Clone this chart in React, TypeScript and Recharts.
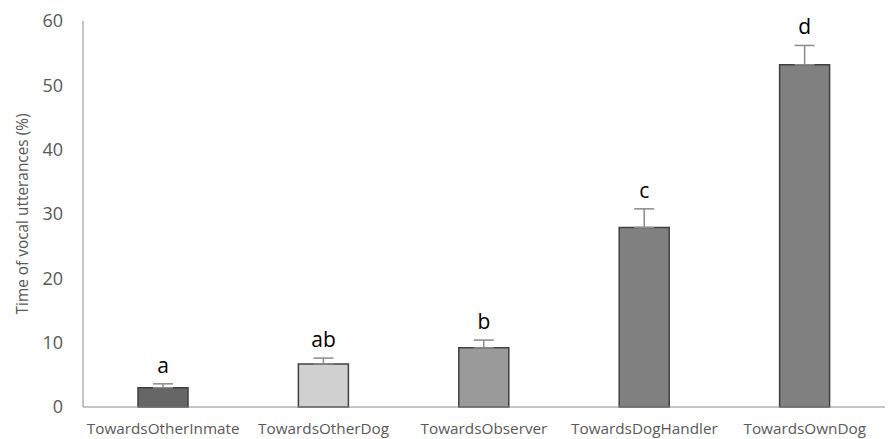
import React from 'react';
import { Bar, XAxis, YAxis, ErrorBar, Cell, Line, ComposedChart } from 'recharts';

const categories = ['TowardsOtherInmate', 'TowardsOtherDog', 'TowardsObserver', 'TowardsDogHandler', 'TowardsOwnDog'];
const means = [3.0, 6.7, 9.2, 27.9, 53.2];
const errors = [0.6, 0.9, 1.2, 2.9, 3.0];
const letters = ['a', 'ab', 'b', 'c', 'd'];
const fills = ['#666666', '#d0d0d0', '#9a9a9a', '#808080', '#808080'];
const yTicks = [0, 10, 20, 30, 40, 50, 60];
const yTitle = 'Time of vocal utterances (%)';

const data = categories.map((name, i) => ({
  name,
  mean: means[i],
  err: [0, errors[i]],
  upper: means[i] + errors[i],
  letter: letters[i],
}));

const FONT = '"Open Sans", sans-serif';

const LetterLabel = (props: any) => {
  const { x, y, index } = props;
  return (
    <text x={x} y={y - 11} textAnchor="middle" fontFamily={FONT} fontSize={21} fill="#000000">
      {letters[index]}
    </text>
  );
};

const YTitle = (props: any) => {
  const vb = props.viewBox || {};
  const cx = 22;
  const cy = (vb.y ?? 21) + (vb.height ?? 386) / 2;
  return (
    <text
      x={cx}
      y={cy}
      transform={`rotate(-90, ${cx}, ${cy})`}
      textAnchor="middle"
      dominantBaseline="central"
      fontFamily={FONT}
      fontSize={15.4}
      fill="#595959"
    >
      {yTitle}
    </text>
  );
};

export default function App() {
  return (
    <div style={{ position: 'absolute', left: 0, top: 0, background: '#fff' }}>
      <ComposedChart width={894} height={439} data={data} margin={{ top: 21, right: 9, bottom: 0, left: 0 }}>
        <XAxis
          dataKey="name"
          height={32}
          tickLine={false}
          tickSize={0}
          tickMargin={16}
          stroke="#8a8a8a"
          tick={{ fill: '#595959', fontFamily: FONT, fontSize: 15.3 }}
          interval={0}
        />
        <YAxis
          width={83}
          domain={[0, 60]}
          ticks={yTicks}
          tickLine={false}
          tickSize={0}
          tickMargin={20}
          stroke="#8a8a8a"
          tick={{ fill: '#595959', fontFamily: FONT, fontSize: 18 }}
          label={<YTitle />}
        />
        <Bar dataKey="mean" barSize={50} stroke="#404040" strokeWidth={1.5} isAnimationActive={false}>
          {data.map((d, i) => (
            <Cell key={i} fill={fills[i]} />
          ))}
          <ErrorBar dataKey="err" direction="y" width={10} stroke="#8a8a8a" strokeWidth={1.5} />
        </Bar>
        <Line dataKey="upper" stroke="none" dot={false} activeDot={false} isAnimationActive={false} label={<LetterLabel />} />
      </ComposedChart>
    </div>
  );
}
